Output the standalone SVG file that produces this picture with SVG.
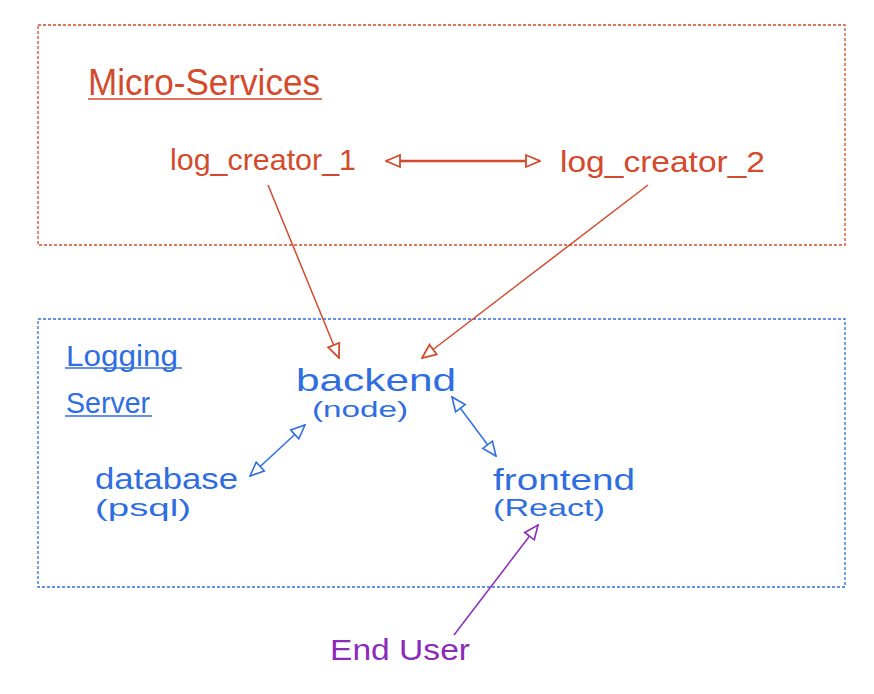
<svg xmlns="http://www.w3.org/2000/svg" width="874" height="694" viewBox="0 0 874 694">
<style>
text{font-family:"Liberation Sans Narrow","Liberation Sans","DejaVu Sans",sans-serif;font-weight:normal}
.r{fill:#d44a2c}.b{fill:#2f6ee0}.p{fill:#8a2cb8}
.box{fill:none;stroke-width:1.3;stroke-dasharray:3 2}
.cr{stroke:#d44a2c;fill:none}.cb{stroke:#2f6ee0;fill:none}.cp{stroke:#8a2cb8;fill:none}
</style>
<defs>
<marker id="hr" viewBox="0 0 16 16" refX="15" refY="8" markerWidth="16" markerHeight="16" markerUnits="userSpaceOnUse" orient="auto-start-reverse"><path d="M1,2 L15,8 L1,14 Z" fill="#fff" stroke="#d44a2c" stroke-width="1.8"/></marker>
<marker id="hb" viewBox="0 0 16 16" refX="15" refY="8" markerWidth="16" markerHeight="16" markerUnits="userSpaceOnUse" orient="auto-start-reverse"><path d="M1,2 L15,8 L1,14 Z" fill="#fff" stroke="#2f6ee0" stroke-width="1.6"/></marker>
<marker id="hp" viewBox="0 0 16 16" refX="15" refY="8" markerWidth="16" markerHeight="16" markerUnits="userSpaceOnUse" orient="auto-start-reverse"><path d="M1,2 L15,8 L1,14 Z" fill="#fff" stroke="#8a2cb8" stroke-width="1.6"/></marker>
</defs>
<rect width="874" height="694" fill="#fff"/>
<g id="micro-services">
<rect class="box" x="38" y="25" width="807" height="220" stroke="#d44a2c"/>
<text class="r" x="88" y="95" font-size="36" textLength="232" lengthAdjust="spacingAndGlyphs">Micro-Services</text>
<line x1="88" y1="99" x2="322" y2="99" stroke="#d44a2c" stroke-width="1.6"/>
</g>
<g id="log_creator_1"><text class="r" x="170" y="170" font-size="30" textLength="186" lengthAdjust="spacingAndGlyphs">log_creator_1</text></g>
<g id="log_creator_2"><text class="r" x="560" y="172" font-size="30" textLength="205" lengthAdjust="spacingAndGlyphs">log_creator_2</text></g>
<g id="logging-server">
<rect class="box" x="38" y="319" width="807" height="268" stroke="#2f6ee0"/>
<text class="b" x="66" y="366" font-size="30" textLength="112" lengthAdjust="spacingAndGlyphs">Logging</text>
<line x1="65" y1="368" x2="182" y2="368" stroke="#2f6ee0" stroke-width="1.4"/>
<text class="b" x="66" y="413" font-size="30" textLength="84" lengthAdjust="spacingAndGlyphs">Server</text>
<line x1="65" y1="416" x2="152" y2="416" stroke="#2f6ee0" stroke-width="1.4"/>
</g>
<g id="backend">
<text class="b" x="296" y="391" font-size="32" textLength="160" lengthAdjust="spacingAndGlyphs">backend</text>
<text class="b" x="312" y="417" font-size="22" textLength="96" lengthAdjust="spacingAndGlyphs">(node)</text>
</g>
<g id="database">
<text class="b" x="95" y="489" font-size="30" textLength="143" lengthAdjust="spacingAndGlyphs">database</text>
<text class="b" x="95" y="516" font-size="24" textLength="96" lengthAdjust="spacingAndGlyphs">(psql)</text>
</g>
<g id="frontend">
<text class="b" x="493" y="490" font-size="30" textLength="142" lengthAdjust="spacingAndGlyphs">frontend</text>
<text class="b" x="493" y="516" font-size="24" textLength="112" lengthAdjust="spacingAndGlyphs">(React)</text>
</g>
<g id="end-user"><text class="p" x="330" y="660" font-size="30" textLength="140" lengthAdjust="spacingAndGlyphs">End User</text></g>
<g id="connectors" stroke-width="1.5">
<line class="cr" x1="386" y1="161" x2="540" y2="161" stroke-width="2.4" marker-start="url(#hr)" marker-end="url(#hr)"/>
<line class="cr" x1="268" y1="185" x2="339" y2="358" marker-end="url(#hr)"/>
<line class="cr" x1="648" y1="185" x2="422" y2="358" marker-end="url(#hr)"/>
<line class="cb" x1="250" y1="476" x2="305" y2="425" marker-start="url(#hb)" marker-end="url(#hb)"/>
<line class="cb" x1="452" y1="397" x2="496" y2="456" marker-start="url(#hb)" marker-end="url(#hb)"/>
<line class="cp" x1="454" y1="635" x2="538" y2="525" marker-end="url(#hp)"/>
</g>
</svg>
